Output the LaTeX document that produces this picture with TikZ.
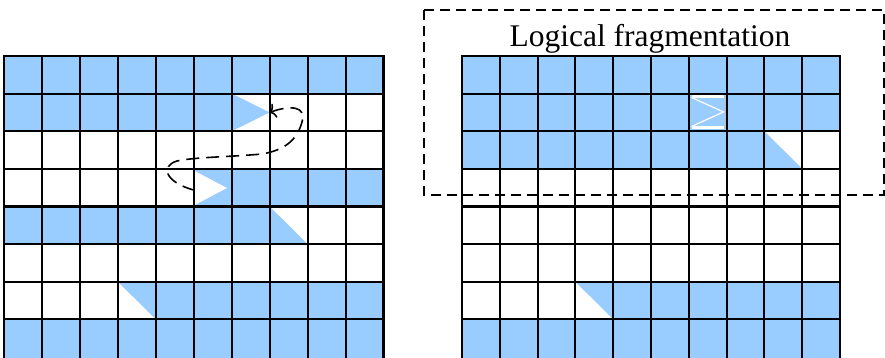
\documentclass[tikz,border=0pt]{standalone}
\usepackage{fontspec}
\setmainfont{Liberation Serif}
\usetikzlibrary{arrows.meta}
\definecolor{cellblue}{HTML}{99CCFF}
\begin{document}
\begin{tikzpicture}[x=1pt,y=-1pt,
  gridline/.style={line width=2.1pt, black},
  seam/.style={white, line width=2.8pt},
  seamthin/.style={white, line width=1.2pt},
  pathline/.style={line width=1.6pt, dash pattern=on 13pt off 7pt},
  framebox/.style={line width=1.8pt, dash pattern=on 10pt off 6pt},
  titletext/.style={font=\fontsize{31.5}{36}\selectfont, inner sep=0pt, anchor=base}]
\useasboundingbox (0,0) rectangle (885,357);
\fill[white] (0,0) rectangle (885,357);

% ---------- left grid fills ----------
\fill[cellblue] (4,56) rectangle (383.5,93.62);
\fill[cellblue] (4,93.62) rectangle (231.7,131.24);
\fill[cellblue] (231.7,93.62) -- (231.7,131.24) -- (269.65,112.43) -- cycle;
\fill[cellblue] (193.75,168.86) rectangle (383.5,206.48);
\fill[white] (193.75,170.5) -- (193.75,205.5) -- (227,188) -- cycle;
\fill[cellblue] (4,206.48) rectangle (269.65,244.1);
\fill[cellblue] (269.65,206.48) -- (269.65,244.1) -- (307.6,244.1) -- cycle;
\fill[cellblue] (117.85,281.72) -- (155.8,281.72) -- (155.8,319.34) -- cycle;
\fill[cellblue] (155.8,281.72) rectangle (383.5,319.34);
\fill[cellblue] (4,319.34) rectangle (383.5,362);

% ---------- right grid fills ----------
\fill[cellblue] (462,56) rectangle (840,131.24);
\fill[cellblue] (462,131.24) rectangle (764.4,168.86);
\fill[cellblue] (764.4,131.24) -- (764.4,168.86) -- (802.2,168.86) -- cycle;
\fill[cellblue] (575.4,281.72) -- (613.2,281.72) -- (613.2,319.34) -- cycle;
\fill[cellblue] (613.2,281.72) rectangle (840,319.34);
\fill[cellblue] (462,319.34) rectangle (840,362);

% ---------- grid lines ----------
\foreach \c in {0,...,10} {
  \draw[gridline] ({4+37.95*\c},55) -- ({4+37.95*\c},362);
  \draw[gridline] ({462+37.8*\c},55) -- ({462+37.8*\c},362);
}
\foreach \r in {0,...,7} {
  \draw[gridline] (2.95,{56+37.62*\r}) -- (384.55,{56+37.62*\r});
  \draw[gridline] (460.95,{56+37.62*\r}) -- (841.05,{56+37.62*\r});
}

% ---------- merged cell seams (right grid) ----------
\draw[seam] (691.5,96.8) -- (723.5,96.8);
\draw[seam] (691.5,127.4) -- (723.5,127.4);
\draw[seamthin] (691.5,97.5) -- (723.5,111.9) -- (691.5,126.5);
\draw[gray!50, line width=0.5pt] (725.3,95.2) -- (725.3,129.5);

% ---------- dashed connector (left grid) ----------
\coordinate (src) at (269.5,112.5);
\coordinate (dst) at (193.5,190);
\draw[pathline, {To[length=6pt,width=15pt]}-] (src)
  .. controls (290,105) and (307,106) .. (302,122)
  .. controls (297,140) and (285,150) .. (262,154)
  .. controls (230,157) and (195,157) .. (177,161)
  .. controls (160,166) and (165,182) .. (dst);

% ---------- logical fragmentation frame ----------
\node[titletext] (title) at (650,46.7) {Logical fragmentation};
\draw[framebox] (424,10) rectangle (884,195);
\end{tikzpicture}
\end{document}
